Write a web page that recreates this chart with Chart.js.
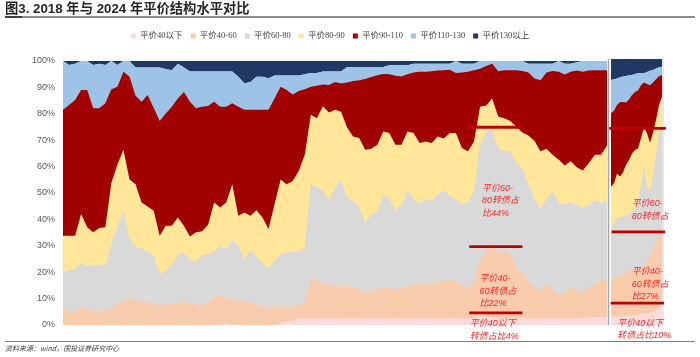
<!DOCTYPE html>
<html><head><meta charset="utf-8">
<script src="https://cdn.jsdelivr.net/npm/chart.js@4.4.1/dist/chart.umd.min.js"></script>
<style>
html,body{margin:0;padding:0;background:#fff;}
#wrap{position:relative;width:700px;height:357px;overflow:hidden;background:#fff;}
#title{position:absolute;left:5px;top:0px;font:bold 13.3px "Liberation Sans","Noto Sans CJK SC",sans-serif;color:#262626;white-space:nowrap;line-height:17px;}
#tline{position:absolute;left:5px;top:16px;width:690px;height:2px;background:#8c8c8c;}
#tmark{position:absolute;left:5px;top:16px;width:17px;height:2px;background:#404040;}
#fline{position:absolute;left:5px;top:341px;width:690px;height:1px;background:#7f7f7f;}
#foot{position:absolute;left:5px;top:343px;font:italic 7px "Noto Sans CJK SC",sans-serif;color:#404040;white-space:nowrap;line-height:11px;}
canvas{position:absolute;top:0;}
#c1{left:0;}
#c2{left:600px;}
</style></head><body>
<div id="wrap">
<canvas id="c1" width="700" height="357"></canvas>
<canvas id="c2" width="100" height="357"></canvas>
<div id="title">图3. 2018 年与 2024 年平价结构水平对比</div>
<div id="tline"></div><div id="tmark"></div>
<div id="fline"></div>
<div id="foot">资料来源：wind，国投证券研究中心</div>
</div>
<script>
// ---- categories ----
const seriesNames = ['平价40以下','平价40-60','平价60-80','平价80-90','平价90-110','平价110-130','平价130以上'];
const yTicks = [0,10,20,30,40,50,60,70,80,90,100];
const mainDays = Array.from({length: 91}, (_, i) => 'A' + (i + 1));
const sideDays = Array.from({length: 18}, (_, i) => 'B' + (i + 1));

// ---- 2018 panel: cumulative share (%) at the top of each band ----
const main40 = [0,0,0,0,0,0,0,0,0,0, 0,0,0,0,0,0,0,0,0,0, 0,0,0,0,0,0,0,0.8,0,0, 0,0,0,0,0,0,0.8,1.3,1.6,2.4, 2.5,2.5,2.5,2.5,2.4,2.5,2.5,2.5,2.6,2.5, 2.5,2.4,2.5,2.5,2.5,2.6,2.5,2.5,2.5,2.4, 2.5,2.5,2.5,2.5,2.6,2.5,2.5,2.5,2.6,3.6, 3.2,2.8,2.5,2.5,2.5,2.4,2.5,2.5,2.5,2.5, 2.4,2.5,2.5,2.5,2.5,2.5,2.6,2.8,3.0,3.0, 3.0];
const main60 = [7.5,5.0,4.6,6.9,6.3,5.0,5.0,5.0,6.0,8.0, 8.8,10.7,9.4,9.0,8.5,8.2,7.5,7.8,8.0,8.2, 8.6,8.2,8.0,7.5,8.2,10.7,11.3,10.3,9.4,9.4, 8.8,8.5,7.5,6.9,6.9,6.9,6.9,6.9,6.9,7.5, 8.2,17.5,17.0,15.4,15.2,15.4,14.4,15.0,14.4,13.4, 12.2,12.8,13.4,14.2,14.0,13.4,13.8,14.4,15.0,15.7, 15.2,15.4,16.4,16.7,16.9,16.9,15.0,13.4,16.9,24.4, 27.8,30.7,27.0,28.6,27.0,21.7,19.7,16.3,13.8,13.2, 15.4,13.4,10.9,12.2,14.2,13.4,12.2,13.8,15.9,16.9, 16.9];
const main80 = [20.1,20.7,21.3,23.6,22.2,22.6,22.9,22.6,30.7,37.6, 43.3,32.6,29.5,29.2,27.6,26.3,19.2,20.7,22.6,26.7, 27.2,24.8,24.1,26.3,26.9,27.7,30.1,28.8,32.3,30.1, 24.7,28.2,25.9,23.2,21.7,24.4,26.7,27.5,27.9,27.6, 29.5,53.3,52.3,51.0,47.3,52.0,55.1,48.2,47.0,44.7, 38.8,41.7,43.2,49.5,47.6,43.5,45.1,51.0,47.6,46.0, 47.6,47.0,49.5,51.0,48.9,47.6,45.7,46.4,50.8,68.3, 73.1,73.9,66.8,66.0,65.8,61.4,58.9,53.5,47.6,44.2, 47.6,50.5,46.4,45.7,46.7,45.5,44.2,45.5,47.3,46.4, 47.0];
const main90 = [33.8,33.8,33.8,42.0,37.0,35.1,36.7,37.0,53.9,60.8, 66.4,55.1,53.3,46.4,44.9,43.3,33.8,37.6,37.6,40.7, 37.6,33.5,35.1,35.5,38.0,46.4,44.5,46.4,53.3,41.4, 42.6,41.4,43.5,40.7,36.4,45.7,55.1,53.3,54.5,58.3, 64.5,79.6,78.3,82.9,80.5,81.5,80.8,74.8,71.4,70.8, 66.4,66.8,68.3,73.3,72.7,68.3,68.3,73.3,72.7,68.9, 69.5,68.9,71.4,70.6,72.7,72.7,67.0,65.8,69.5,82.7, 83.1,85.8,79.0,78.3,77.3,75.2,72.9,71.8,69.8,65.8, 66.8,64.5,62.7,60.4,62.0,59.8,58.5,61.4,64.5,64.5, 68.0];
const main110 = [81.5,83.3,85.2,89.0,89.0,82.1,82.1,84.0,89.3,90.2, 95.9,94.0,86.8,84.6,87.1,82.3,77.3,80.1,82.7,85.8, 88.3,84.6,82.1,82.7,83.0,84.6,82.7,82.7,84.0,82.7, 81.5,81.5,81.5,81.5,81.5,85.8,90.2,89.0,87.3,88.6, 89.3,90.2,90.6,91.1,90.9,92.0,91.5,91.9,92.4,92.7, 93.2,93.9,94.6,95.1,95.0,94.4,94.1,95.0,95.6,95.9, 95.9,96.1,96.4,96.5,96.7,95.5,95.6,95.9,96.5,97.1, 98.1,99.0,96.1,96.5,96.5,96.5,96.2,95.6,93.4,92.7, 95.6,96.2,95.9,94.9,95.9,96.4,95.9,96.4,96.5,96.5, 96.5];
const main130 = [100,98.5,99,100,100,98.5,99,98.5,100,98.5, 100,100,97.5,97.5,97.5,97.5,97.5,97,96.5,99, 97.5,96,96,96,96,96,96,96,96,94, 91.5,92,94,94,93.5,94.5,94.5,94.5,94.5,94.5, 95,95.5,95.5,96,96,96,96,97.7,97.7,97.7, 97.7,97.7,97.7,97.7,98.4,98.4,98.4,98.4,99,99, 99,99,99,99,99,100,99,99,99,100, 100,100,100,100,100,100,100,99,99,99, 99,99,100,99,99,99.5,100,100,100,100, 100];

// ---- 2024 panel: cumulative share (%) at the top of each band ----
const side40 = [3.1,3.1,3.2,3.3,3.3,3.4,3.5,3.6,3.7,3.8,4.0,4.2,4.4,4.7,5.0,5.5,6.5,8.0];
const side60 = [16.9,17.5,18.2,18.8,19.4,19.8,20.4,20.7,20.7,20.7,21.3,21.9,23.8,25.7,28.8,31.0,33.2,35.7];
const side80 = [35.7,38.0,40.1,40.5,40.7,41.2,41.7,42.5,43.7,46.4,52.0,60.0,52.0,50.0,56.0,64.0,72.0,76.0];
const side90 = [52.0,53.3,57.0,55.8,57.3,60.2,62.0,64.5,65.8,66.4,70.2,74.3,72.1,68.5,72.3,77.1,82.7,85.8];
const side110 = [79.6,80.5,82.7,83.7,83.8,83.6,84.8,86.5,87.6,88.2,90.1,91.2,90.6,90.1,91.2,92.4,93.5,94.0];
const side130 = [92.1,92.4,92.7,93.1,93.4,93.6,93.9,94.0,94.4,94.6,94.6,94.6,95.1,95.6,95.9,96.4,96.9,97.1];

// ---- annotations (value space) ----
const mainMarks = [{level:74.9, from:66.9, to:76.0},{level:29.7, from:67.2, to:76.0},{level:4.6, from:67.2, to:76.0}];
const mainNotes = [
  {at:69.3, level:51.8, lines:['平价60-','80转债占','比44%']},
  {at:68.9, level:17.6, lines:['平价40-','60转债占','比22%']},
  {at:67.3, level:0.4, lines:['平价40以下','转债占比4%']}
];
const sideMarks = [{level:73.9, from:-0.6, to:18.3},{level:35.0, from:0.2, to:18.0},{level:8.2, from:-0.1, to:17.7}];
const sideNotes = [
  {at:6.9, level:45.5, lines:['平价60-','80转债占']},
  {at:6.9, level:20.0, lines:['平价40-','60转债占','比27%']},
  {at:2.1, level:0.6, lines:['平价40以下','转债占比10%']}
];

const colors = ['#FBDBDC','#F8CBAD','#D9D9D9','#FFE699','#A00000','#9DC3E6','#203864'];

function buildSets(bands) {
  return seriesNames.map((name, k) => ({
    label: name,
    data: k < 6 ? bands[k] : bands[5],
    fill: k < 6 ? 'origin' : 'end',
    backgroundColor: colors[k],
    borderColor: 'rgba(0,0,0,0)',
    borderWidth: 0,
    pointRadius: 0,
    pointHoverRadius: 0,
    tension: 0
  }));
}

function drawNotes(chart, marks, notes) {
  const {ctx} = chart; const x = chart.scales.x, y = chart.scales.y;
  ctx.save();
  ctx.strokeStyle = '#C00000'; ctx.lineWidth = 2.8;
  marks.forEach(m => {
    const py = y.getPixelForValue(m.level);
    ctx.beginPath(); ctx.moveTo(x.getPixelForValue(m.from), py); ctx.lineTo(x.getPixelForValue(m.to), py); ctx.stroke();
  });
  ctx.fillStyle = '#FF2626';
  ctx.font = 'italic 9px "Liberation Sans","Noto Sans CJK SC",sans-serif';
  ctx.textBaseline = 'middle'; ctx.textAlign = 'left';
  notes.forEach(n => {
    const px = x.getPixelForValue(n.at), py = y.getPixelForValue(n.level);
    n.lines.forEach((t, k) => ctx.fillText(t, px, py + k * 12.5));
  });
  ctx.restore();
}

const legendTweak = {
  id: 'legendTweak',
  beforeInit(chart) {
    const fit = chart.legend.fit;
    chart.legend.fit = function () { fit.call(this); this.height += 10.75; };
  },
  afterLayout(chart) {
    chart.legend.left -= 5; chart.legend.right -= 5;
  }
};

const tickFont = {family: '"Liberation Sans", sans-serif', size: 9};

new Chart(document.getElementById('c1'), {
  type: 'line',
  data: {labels: mainDays, datasets: buildSets([main40, main60, main80, main90, main110, main130])},
  options: {
    responsive: false, animation: false, devicePixelRatio: 1,
    layout: {padding: {left: 24, right: 93, top: 23.75, bottom: 32}},
    scales: {
      x: {display: false},
      y: {
        min: 0, max: 100,
        afterBuildTicks(s) { s.ticks = yTicks.map(v => ({value: v})); },
        ticks: {callback: v => v + '%', font: tickFont, color: '#595959', padding: 8},
        grid: {display: false, drawTicks: false},
        border: {display: false}
      }
    },
    plugins: {
      legend: {
        position: 'top', fullSize: false,
        labels: {boxWidth: 5, boxHeight: 5, padding: 8, color: '#404040',
          font: {family: '"Liberation Serif","Noto Sans CJK SC",serif', size: 8.5}}
      },
      tooltip: {enabled: false}
    }
  },
  plugins: [legendTweak, {id: 'mainNotes', afterDatasetsDraw(c) { drawNotes(c, mainMarks, mainNotes); }}]
});

new Chart(document.getElementById('c2'), {
  type: 'line',
  data: {labels: sideDays, datasets: buildSets([side40, side60, side80, side90, side110, side130])},
  options: {
    responsive: false, animation: false, devicePixelRatio: 1,
    layout: {padding: {left: 11, right: 38, top: 59, bottom: 32}},
    scales: {x: {display: false}, y: {display: false, min: 0, max: 100}},
    plugins: {legend: {display: false}, tooltip: {enabled: false}}
  },
  plugins: [
    {id: 'edges', beforeDatasetsDraw(c) {
      const {ctx, chartArea: a} = c;
      ctx.save();
      ctx.strokeStyle = '#A6A6A6'; ctx.lineWidth = 1.5;
      ctx.beginPath(); ctx.moveTo(a.left - 2.5, a.top); ctx.lineTo(a.left - 2.5, a.bottom); ctx.stroke();
      ctx.strokeStyle = '#D0D0D0'; ctx.lineWidth = 1;
      ctx.beginPath(); ctx.moveTo(a.right + 1, a.top); ctx.lineTo(a.right + 1, a.bottom); ctx.stroke();
      ctx.restore();
    }},
    {id: 'sideNotes', afterDatasetsDraw(c) { drawNotes(c, sideMarks, sideNotes); }}
  ]
});
</script>
</body></html>
